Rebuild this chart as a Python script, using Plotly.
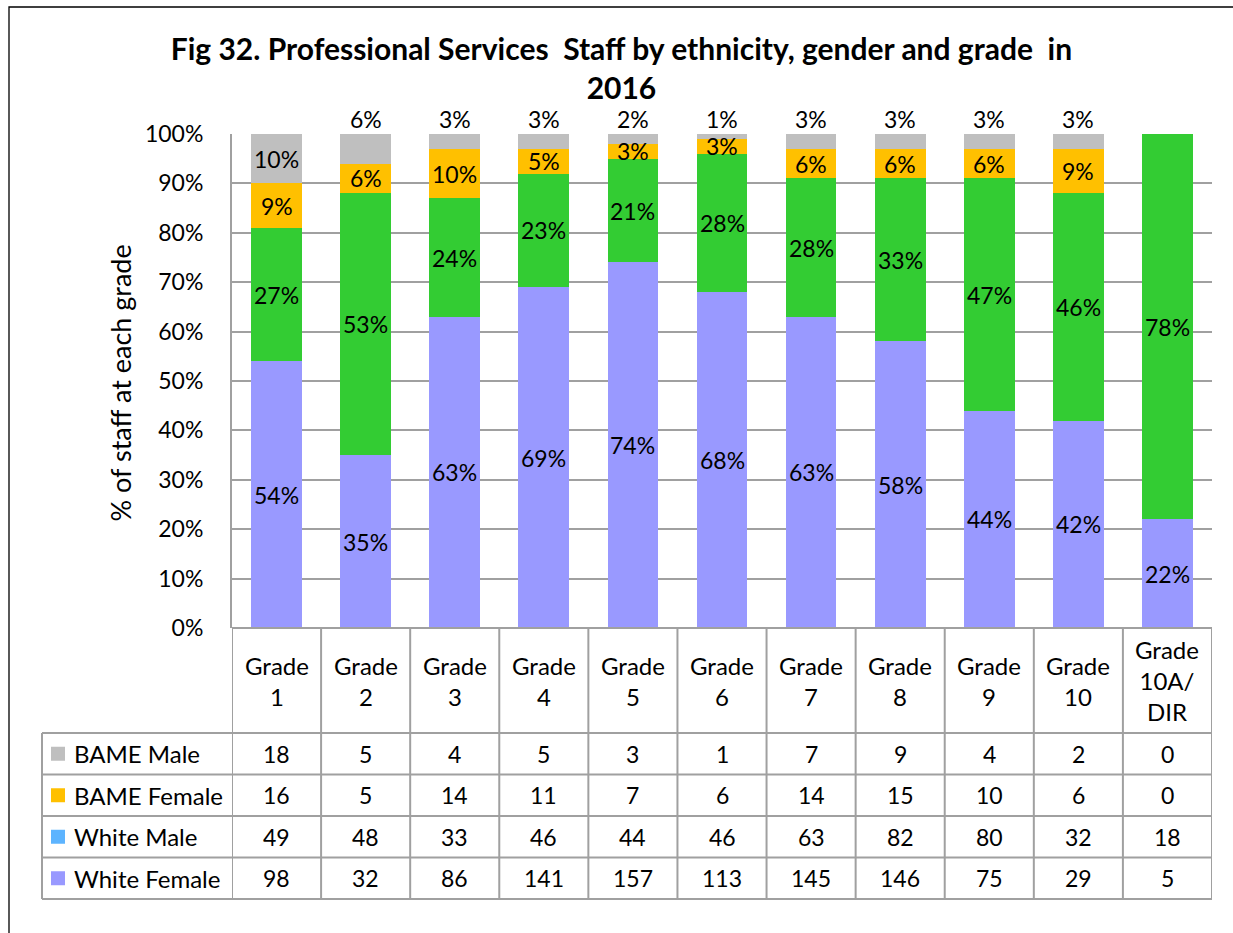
import plotly.graph_objects as go

# ---------------- data ----------------
grades = ["Grade 1", "Grade 2", "Grade 3", "Grade 4", "Grade 5", "Grade 6",
          "Grade 7", "Grade 8", "Grade 9", "Grade 10", "Grade 10A/DIR"]
header_labels = ["Grade<br>1", "Grade<br>2", "Grade<br>3", "Grade<br>4", "Grade<br>5",
                 "Grade<br>6", "Grade<br>7", "Grade<br>8", "Grade<br>9", "Grade<br>10",
                 "Grade<br>10A/<br>DIR"]

# percentage of staff at each grade (as labelled in the chart)
pct_white_female = [54, 35, 63, 69, 74, 68, 63, 58, 44, 42, 22]
pct_white_male = [27, 53, 24, 23, 21, 28, 28, 33, 47, 46, 78]
pct_bame_female = [9, 6, 10, 5, 3, 3, 6, 6, 6, 9, 0]
pct_bame_male = [10, 6, 3, 3, 2, 1, 3, 3, 3, 3, 0]

# head counts (data table)
n_bame_male = [18, 5, 4, 5, 3, 1, 7, 9, 4, 2, 0]
n_bame_female = [16, 5, 14, 11, 7, 6, 14, 15, 10, 6, 0]
n_white_male = [49, 48, 33, 46, 44, 46, 63, 82, 80, 32, 18]
n_white_female = [98, 32, 86, 141, 157, 113, 145, 146, 75, 29, 5]

# ---------------- style ----------------
FONT = "Lato"
FS = 23
FS_TABLE = 24
C_WF, C_WM, C_BF, C_BM = "#9999FF", "#33CC33", "#FFC000", "#BFBFBF"
KEY_WM = "#5DB4FF"
GRID = "#A0A0A0"

W, H = 1233, 933
PL, PR, PT, PB = 232, 1212, 134, 628


def px_x(x):
    return (x - PL) / (PR - PL)


def px_y(y):
    return (PB - y) / (PB - PT)


stack = [  # bottom -> top
    ("White Female", pct_white_female, C_WF),
    ("White Male", pct_white_male, C_WM),
    ("BAME Female", pct_bame_female, C_BF),
    ("BAME Male", pct_bame_male, C_BM),
]

fig = go.Figure()
for name, vals, col in stack:
    fig.add_trace(go.Bar(x=grades, y=vals, name=name, marker=dict(color=col, line=dict(width=0)),
                         hoverinfo="x+y+name", showlegend=False))

annotations = []
shapes = []

# data labels
base = [0] * len(grades)
for name, vals, col in stack:
    for i, v in enumerate(vals):
        if v > 0:
            if name == "BAME Male" and v <= 6:
                annotations.append(dict(x=i, y=100, xref="x", yref="y", text=f"{v}%",
                                        showarrow=False, yanchor="bottom", yshift=-1,
                                        font=dict(family=FONT, size=FS, color="black")))
            else:
                annotations.append(dict(x=i, y=base[i] + v / 2, xref="x", yref="y", text=f"{v}%",
                                        showarrow=False, yanchor="middle",
                                        font=dict(family=FONT, size=FS, color="black")))
        base[i] += v

# y axis title
annotations.append(dict(x=px_x(120), y=px_y(383.5), xref="paper", yref="paper", text="% of staff at each grade",
                        textangle=-90, showarrow=False, xanchor="center", yanchor="middle",
                        font=dict(family=FONT, size=27, color="black")))

# ---------------- data table ----------------
HEADER_BOTTOM = 733
ROW_H = 41.5
TABLE_LEFT = 42
rows = [("BAME Male", n_bame_male, C_BM), ("BAME Female", n_bame_female, C_BF),
        ("White Male", n_white_male, KEY_WM), ("White Female", n_white_female, C_WF)]
table_bottom = HEADER_BOTTOM + ROW_H * len(rows)
line = dict(color=GRID, width=2)

# header labels
for i, lab in enumerate(header_labels):
    annotations.append(dict(x=i, y=px_y((PB + HEADER_BOTTOM) / 2), xref="x", yref="paper", text=lab,
                            showarrow=False, yanchor="middle", xanchor="center",
                            font=dict(family=FONT, size=FS_TABLE, color="black")))

# vertical column lines
for i in range(len(grades) + 1):
    shapes.append(dict(type="line", xref="x", yref="paper", x0=i - 0.5, x1=i - 0.5,
                       y0=px_y(PB), y1=px_y(table_bottom), line=line))
# top of header
shapes.append(dict(type="line", xref="x", yref="paper", x0=-0.5, x1=len(grades) - 0.5,
                   y0=0, y1=0, line=line))
# row lines
for r in range(len(rows) + 1):
    yy = px_y(HEADER_BOTTOM + r * ROW_H)
    shapes.append(dict(type="line", xref="paper", yref="paper", x0=px_x(TABLE_LEFT), x1=1,
                       y0=yy, y1=yy, line=line))
shapes.append(dict(type="line", xref="paper", yref="paper", x0=px_x(TABLE_LEFT), x1=px_x(TABLE_LEFT),
                   y0=px_y(HEADER_BOTTOM), y1=px_y(table_bottom), line=line))

for r, (name, vals, col) in enumerate(rows):
    yc = HEADER_BOTTOM + r * ROW_H + ROW_H / 2
    shapes.append(dict(type="rect", xref="paper", yref="paper", x0=px_x(51), x1=px_x(65),
                       y0=px_y(yc - 7), y1=px_y(yc + 7), fillcolor=col, line=dict(width=0)))
    annotations.append(dict(x=px_x(72), y=px_y(yc), xref="paper", yref="paper", text=name,
                            showarrow=False, xanchor="left", yanchor="middle",
                            font=dict(family=FONT, size=FS_TABLE, color="black")))
    for i, v in enumerate(vals):
        annotations.append(dict(x=i, y=px_y(yc), xref="x", yref="paper", text=str(v),
                                showarrow=False, xanchor="center", yanchor="middle",
                                font=dict(family=FONT, size=FS, color="black")))

# outer chart border
shapes.append(dict(type="rect", xref="paper", yref="paper", x0=px_x(9), x1=px_x(1260),
                   y0=px_y(7), y1=px_y(960), line=dict(color="black", width=1.3),
                   fillcolor="rgba(0,0,0,0)"))

fig.update_layout(
    width=W, height=H,
    margin=dict(l=PL, r=W - PR, t=PT, b=H - PB, pad=0),
    paper_bgcolor="white", plot_bgcolor="white",
    barmode="stack", bargap=0.43,
    title=dict(text="<b>Fig 32. Professional Services\u00a0 Staff by ethnicity, gender and grade\u00a0 in<br>2016</b>",
               x=0.504, xref="container", xanchor="center", y=1 - 60 / H, yref="container", yanchor="top",
               font=dict(family=FONT, size=30, color="black")),
    xaxis=dict(range=[-0.5, len(grades) - 0.5], showticklabels=False, showgrid=False,
               zeroline=False, showline=False, ticks=""),
    yaxis=dict(range=[0, 100], dtick=10, ticksuffix="%", showgrid=True, gridcolor=GRID, gridwidth=2,
               zeroline=False, showline=True, linecolor=GRID, linewidth=2, ticks="",
               ticklabelstandoff=22, tickfont=dict(family=FONT, size=FS, color="black")),
    annotations=annotations,
    shapes=shapes,
    font=dict(family=FONT, size=FS, color="black"),
)

fig.write_html("out.html", config={"displayModeBar": False},
               post_script="document.body.style.margin='0';")
